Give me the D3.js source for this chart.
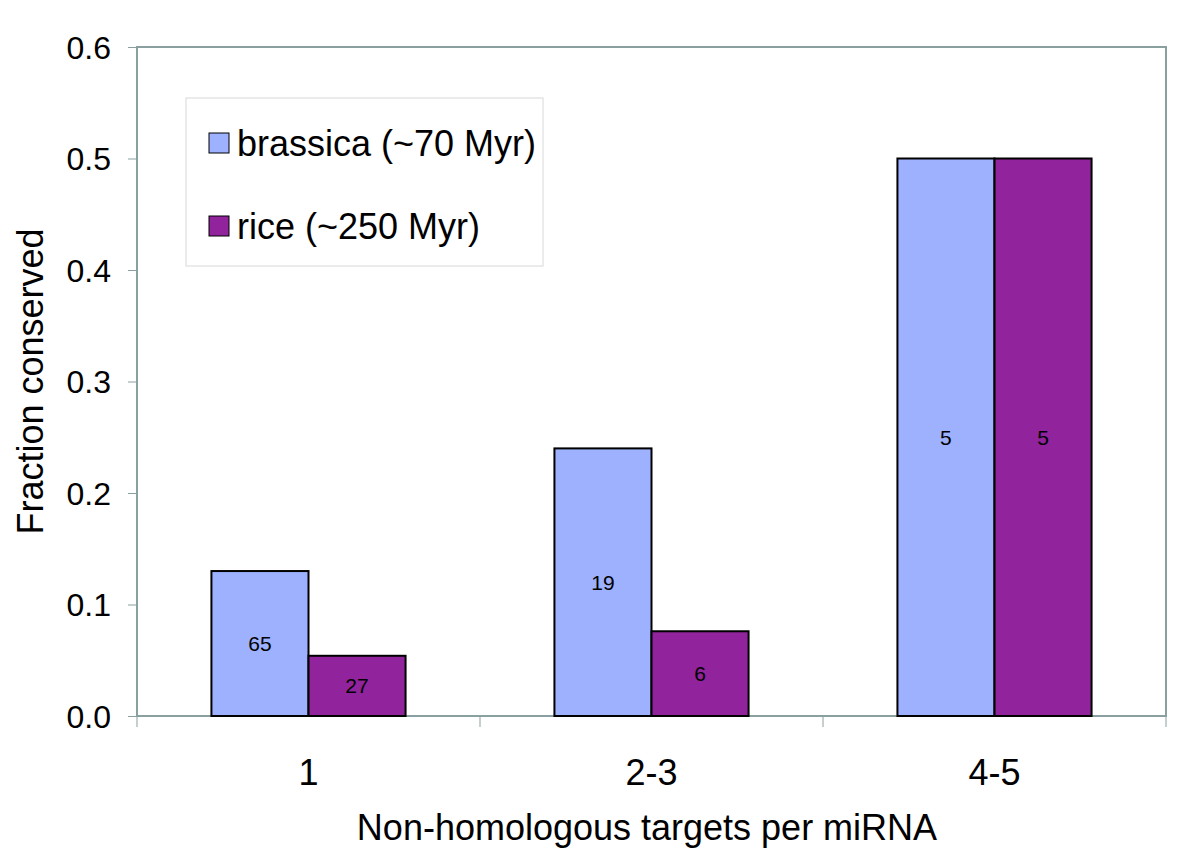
<!DOCTYPE html>
<html>
<head>
<meta charset="utf-8">
<script src="https://cdn.jsdelivr.net/npm/d3@7"></script>
<style>
  body { margin: 0; background: #fff; }
  text { font-family: "Liberation Sans", Arial, sans-serif; fill: #000; }
</style>
</head>
<body>
<div id="chart"></div>
<script>
const w = 1200;
const h = 859;

// data
const categories = ["1", "2-3", "4-5"];
const series = ["brassica (~70 Myr)", "rice (~250 Myr)"];
const brassica = [0.13, 0.24, 0.50];
const rice = [0.054, 0.076, 0.50];
const brassicaCounts = [65, 19, 5];
const riceCounts = [27, 6, 5];
const yTicks = [0, 0.1, 0.2, 0.3, 0.4, 0.5, 0.6];

const colors = ["#9db1fe", "#91239c"];
const axisColor = "#8a9f9f";

const margin = {top: 47, right: 34, bottom: 143, left: 137};
const iw = w - margin.left - margin.right;
const ih = h - margin.top - margin.bottom;

const svg = d3.select("#chart").append("svg")
    .attr("width", w).attr("height", h);

const g = svg.append("g").attr("transform", `translate(${margin.left},${margin.top})`);

const x = d3.scaleBand().domain(categories).range([0, iw]).paddingInner(0).paddingOuter(0);
const x1 = d3.scaleBand().domain(series).range([x.bandwidth() * 0.217, x.bandwidth() * 0.783]);
const y = d3.scaleLinear().domain([0, 0.6]).range([ih, 0]);

// plot frame
g.append("rect")
    .attr("x", 0).attr("y", 0).attr("width", iw).attr("height", ih)
    .attr("fill", "none").attr("stroke", axisColor).attr("stroke-width", 2);

// y axis ticks and labels
const yAxis = g.append("g").call(d3.axisLeft(y).tickValues(yTicks).tickFormat(d3.format(".1f")).tickSize(9).tickSizeOuter(0));
yAxis.select(".domain").remove();
yAxis.selectAll("line").attr("stroke", axisColor).attr("stroke-width", 1);
yAxis.selectAll("text").attr("font-size", 32).attr("x", -26).attr("dy", "0.35em")
    .style("font-family", "Liberation Sans, Arial, sans-serif");

// x axis ticks at category boundaries
const bounds = categories.map(c => x(c)).concat([iw]);
g.selectAll(".xtick").data(bounds).enter().append("line")
    .attr("x1", d => d).attr("x2", d => d)
    .attr("y1", ih).attr("y2", ih + 11)
    .attr("stroke", axisColor).attr("stroke-width", 1);

g.selectAll(".xlab").data(categories).enter().append("text")
    .attr("x", d => x(d) + x.bandwidth() / 2)
    .attr("y", ih + 69)
    .attr("text-anchor", "middle")
    .attr("font-size", 36)
    .text(d => d);

// bars
const rows = categories.map((c, i) => ({
  cat: c,
  vals: [
    {s: series[0], v: brassica[i], n: brassicaCounts[i], col: colors[0]},
    {s: series[1], v: rice[i], n: riceCounts[i], col: colors[1]}
  ]
}));

const grp = g.selectAll(".grp").data(rows).enter().append("g")
    .attr("transform", d => `translate(${x(d.cat)},0)`);

grp.selectAll("rect").data(d => d.vals).enter().append("rect")
    .attr("x", d => x1(d.s))
    .attr("y", d => y(d.v))
    .attr("width", x1.bandwidth())
    .attr("height", d => ih - y(d.v))
    .attr("fill", d => d.col)
    .attr("stroke", "#000")
    .attr("stroke-width", 2);

grp.selectAll(".lab").data(d => d.vals).enter().append("text")
    .attr("x", d => x1(d.s) + x1.bandwidth() / 2)
    .attr("y", d => (y(d.v) + ih) / 2)
    .attr("dy", "0.35em")
    .attr("text-anchor", "middle")
    .attr("font-size", 21)
    .text(d => d.n);

// legend
const lg = svg.append("g").attr("transform", "translate(186,98)");
lg.append("rect").attr("width", 357).attr("height", 168)
    .attr("fill", "#fff").attr("stroke", "#d8d8d8").attr("stroke-width", 1);
series.forEach((s, i) => {
  const row = lg.append("g").attr("transform", `translate(23,${45 + i * 83})`);
  row.append("rect").attr("x", 0).attr("y", -10).attr("width", 20).attr("height", 20)
      .attr("fill", colors[i]).attr("stroke", "#000").attr("stroke-width", 1);
  row.append("text").attr("x", 28).attr("dy", "0.36em").attr("font-size", 36).text(s);
});

// axis titles
svg.append("text")
    .attr("x", 647).attr("y", 840)
    .attr("text-anchor", "middle").attr("font-size", 36)
    .text("Non-homologous targets per miRNA");

svg.append("text")
    .attr("transform", `translate(43,${margin.top + ih / 2}) rotate(-90)`)
    .attr("text-anchor", "middle").attr("font-size", 36)
    .text("Fraction conserved");
</script>
</body>
</html>
